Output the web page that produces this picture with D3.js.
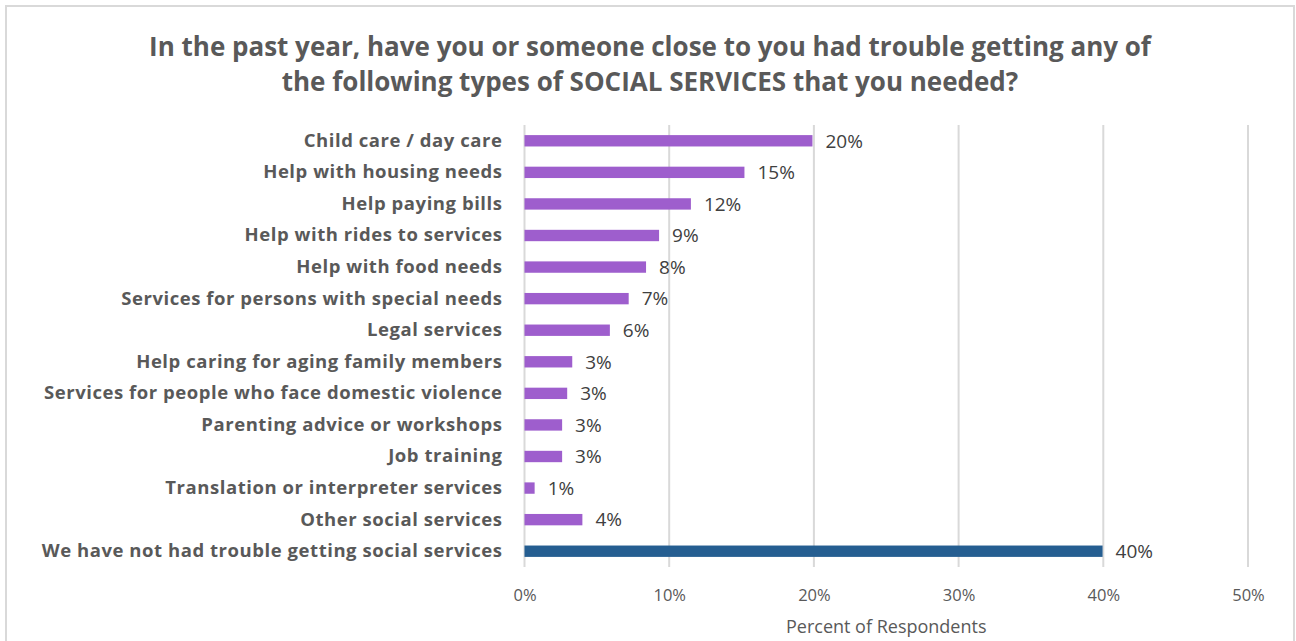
<!DOCTYPE html>
<html>
<head>
<meta charset="utf-8">
<script src="https://cdn.jsdelivr.net/npm/d3@7"></script>
<style>
  html, body { margin: 0; padding: 0; background: #ffffff; }
  svg { display: block; font-family: "Open Sans", Lato, sans-serif; }
</style>
</head>
<body>
<svg id="chart" width="1296" height="641"></svg>
<script>
// Survey responses: share of respondents reporting trouble getting each service
const categories = [
  "Child care / day care",
  "Help with housing needs",
  "Help paying bills",
  "Help with rides to services",
  "Help with food needs",
  "Services for persons with special needs",
  "Legal services",
  "Help caring for aging family members",
  "Services for people who face domestic violence",
  "Parenting advice or workshops",
  "Job training",
  "Translation or interpreter services",
  "Other social services",
  "We have not had trouble getting social services"
];
const values = [0.199, 0.152, 0.115, 0.093, 0.084, 0.072, 0.059, 0.033, 0.0295, 0.026, 0.026, 0.007, 0.040, 0.3995];
const xTicks = [0, 0.1, 0.2, 0.3, 0.4, 0.5];
const titleLines = [
  "In the past year, have you or someone close to you had trouble getting any of",
  "the following types of SOCIAL SERVICES that you needed?"
];
const axisTitle = "Percent of Respondents";

const rows = categories.map((c, i) => ({ category: c, value: values[i] }));

const svg = d3.select("#chart");
const W = 1296, H = 641;
const plot = { left: 524.5, right: 1248, top: 125, bottom: 567 };

// chart frame
svg.append("rect")
  .attr("x", 6).attr("y", 6)
  .attr("width", 1288).attr("height", H + 10)
  .attr("fill", "#ffffff")
  .attr("stroke", "#d9d9d9").attr("stroke-width", 2);

const x = d3.scaleLinear().domain([0, 0.5]).range([plot.left, plot.right]);
const y = d3.scaleBand().domain(categories).range([plot.top, plot.bottom]).paddingInner(0.64).paddingOuter(0.32);

// title
svg.append("g").selectAll("text").data(titleLines).join("text")
  .attr("x", 650).attr("y", (d, i) => 56 + i * 34.5)
  .attr("text-anchor", "middle")
  .attr("font-size", 26).attr("font-weight", 700)
  .attr("fill", "#595959")
  .text(d => d);

// vertical gridlines
svg.append("g").selectAll("line").data(xTicks).join("line")
  .attr("x1", d => x(d)).attr("x2", d => x(d))
  .attr("y1", plot.top).attr("y2", plot.bottom)
  .attr("stroke", "#d9d9d9").attr("stroke-width", 2);

// x axis tick labels
const xAxis = d3.axisBottom(x).tickValues(xTicks).tickFormat(d3.format(".0%")).tickSize(0).tickPadding(0);
const gx = svg.append("g").attr("transform", `translate(0, 601)`).call(xAxis);
gx.select(".domain").remove();
gx.selectAll("text")
  .attr("font-family", "'Open Sans', sans-serif")
  .attr("font-size", 16.5).attr("fill", "#595959")
  .attr("dy", "0");

// axis title
svg.append("text")
  .attr("x", (plot.left + plot.right) / 2).attr("y", 633)
  .attr("text-anchor", "middle")
  .attr("font-size", 18).attr("fill", "#595959")
  .text(axisTitle);

// category labels
const yAxis = d3.axisLeft(y).tickSize(0).tickPadding(22);
const gy = svg.append("g").attr("transform", `translate(${plot.left}, 0)`).call(yAxis);
gy.select(".domain").remove();
gy.selectAll("text")
  .attr("font-family", "'Open Sans', sans-serif")
  .attr("font-size", 18.5).attr("font-weight", 700)
  .attr("letter-spacing", "0.55px")
  .attr("fill", "#595959");

// bars
const last = categories[categories.length - 1];
svg.append("g").selectAll("rect").data(rows).join("rect")
  .attr("x", x(0))
  .attr("y", d => y(d.category))
  .attr("width", d => x(d.value) - x(0))
  .attr("height", y.bandwidth())
  .attr("fill", d => d.category === last ? "#255e91" : "#9e5ecd");

// value labels
svg.append("g").selectAll("text").data(rows).join("text")
  .attr("x", d => x(d.value) + 13)
  .attr("y", d => y(d.category) + y.bandwidth() / 2)
  .attr("dy", "0.36em")
  .attr("font-size", 19).attr("fill", "#404040")
  .text(d => d3.format(".0%")(d.value));
</script>
</body>
</html>
